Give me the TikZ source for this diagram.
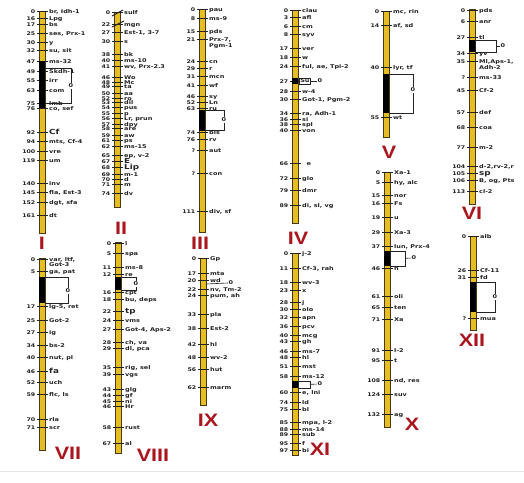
\documentclass[tikz,border=0pt]{standalone}
\usepackage{fontspec}
\newfontfamily\locfont{DejaVu Sans}[FakeStretch=1.25]
\newfontfamily\romfont{Liberation Sans}[FakeStretch=1.2]
\usepackage{tikz}
\definecolor{chryellow}{RGB}{230,190,35}
\definecolor{chredge}{RGB}{70,58,18}
\definecolor{romred}{RGB}{170,22,30}
\definecolor{labgray}{RGB}{35,35,35}

% one chromosome: name, x, top, bottom, loci (y/number/label)
\newcommand{\drawchrom}[5]{%
  \draw[chrbar] ({#2-2.9},#3) rectangle ({#2+2.9},#4);
  \foreach \yy/\nn/\lab [count=\i] in {#5} {
    \draw[tickline] ({#2-5},\yy) -- ({#2+6},\yy);
    \node[numlab, anchor=mid east] (#1-n\i) at ({#2-6.5},\yy) {\nn};
    \node[loclab, anchor=mid west] (#1-l\i) at ({#2+7},\yy) {\lab};
  }%
}
\newcommand{\bigloc}[1]{{\fontsize{7}{7}\selectfont #1}}

\begin{document}
\begin{tikzpicture}[
    x=1pt, y=-1pt,
    chrbar/.style={draw=chredge, fill=chryellow, line width=0.6pt},
    tickline/.style={draw=labgray, line width=0.7pt},
    loclab/.style={font=\locfont\bfseries\fontsize{5.2}{6}\selectfont, text=labgray, inner sep=0pt},
    numlab/.style={font=\locfont\bfseries\fontsize{5}{6}\selectfont, text=labgray, inner sep=0pt},
    cenpart/.style={fill=black},
    cenline/.style={draw=labgray, line width=0.6pt},
    cenbox/.style={draw=labgray, line width=0.6pt, inner sep=0pt, outer sep=0pt},
    cenlab/.style={font=\locfont\bfseries\fontsize{5.2}{6}\selectfont, text=labgray, fill=white, inner sep=0.6pt},
    chrname/.style={font=\romfont\bfseries\fontsize{18}{18}\selectfont, text=romred, inner sep=0pt},
]
\useasboundingbox (0,0) rectangle (524,482);
\draw[gray!20] (0,471) -- (524,471);

% ---- top row
\drawchrom{I}{42}{11}{233}{11/0/{br, Idh-1}, 18.5/16/Lpg, 24/17/bs, 33/25/{ses, Prx-1}, 42/30/y, 50/32/{su, sit}, 61/47/ms-32, 71/49/Skdh-1, 80/55/irr, 90/63/com, 103.5/75/lmb, 108.5/76/{co, sef}, 132/92/{\bigloc{Cf}}, 141/94/{mts, Cf-4}, 151/100/vre, 160/119/um, 183/140/inv, 192/145/{fla, Est-3}, 202/152/{dgt, sfa}, 215/161/dt}
\fill[cenpart] (39.1,61) rectangle (44.9,108);
\coordinate (I-ct) at (44.9,68);
\coordinate (I-cb) at (44.9,103);
\node[cenlab] (I-cen) at (71,86) {0};
\draw[cenline] (I-ct) -| (I-cen.north);
\draw[cenline] (I-cb) -| (I-cen.south);

\drawchrom{II}{117}{12}{207}{12/0/sulf, 24/22/mgn, 32/27/{Est-1, 3-7}, 41/30/s, 54/38/bk, 60/40/ms-10, 66/41/{wv, Prx-2.3}, 77/46/Wo, 82/48/Mc, 86.5/49/ta, 93/50/aa, 98/52/ro, 102.5/53/dil, 107.5/54/pus, 113/55/p, 118.5/56/{Lr, prun}, 124/57/dpy, 128.5/58/are, 135/59/aw, 140/61/ps, 146/62/ms-15, 155/65/{ep, v-2}, 161/67/{\bigloc{E}}, 167.5/68/{\bigloc{Lip}}, 174/69/m-1, 179/70/d, 184/71/m, 193/74/dv}
\draw[tickline, line width=1pt] (112,16) -- (123,10);
\draw[tickline, line width=1pt] (112,27) -- (124,21);

\drawchrom{III}{202}{9}{232}{9/0/pau, 18/8/ms-9, 31/15/pds, 39/21/{Prx-7,}, 61/24/cn, 68/29/r, 76/31/mcn, 85/41/wf, 96/46/sy, 102/52/Ln, 108/63/ru, 132/74/bls, 139/76/rv, 150/?/aut, 173/?/con, 211/111/{div, sf}}
\node[loclab, anchor=north west] (III-l4b) at ([yshift=-1pt]III-l4.south west) {Pgm-1};
\fill[cenpart] (199.1,110) rectangle (204.9,131);
\coordinate (III-ct) at (204.9,110);
\coordinate (III-cb) at (204.9,130);
\node[cenlab] (III-cen) at (224,120) {0};
\draw[cenline] (III-ct) -| (III-cen.north);
\draw[cenline] (III-cb) -| (III-cen.south);

\drawchrom{IV}{295}{10}{223}{10/0/clau, 17/3/afl, 26/6/cm, 34/8/syv, 48/17/ver, 57/18/w, 66/24/{ful, ae, Tpi-2}, 81/27/{}, 91/28/w-4, 99/30/{Got-1, Pgm-2}, 113/34/{ra, Adh-1}, 119/36/si, 124.5/38/spl, 130/40/von, 163/66/{\ \ e}, 178/72/glo, 190/79/dmr, 205/89/{di, sl, vg}}
\fill[cenpart] (292.1,78) rectangle (297.9,84);
\node[loclab, draw=labgray, fill=white, line width=0.5pt, inner sep=1pt, anchor=west] (IV-su) at (299,81) {Su};
\node[cenlab] (IV-cen) at (320,81) {0};
\draw[cenline] (IV-su) -- (IV-cen);

\drawchrom{V}{386}{11}{137}{11/0/{mc, rin}, 25/14/{af, sd}, 67/40/{lyr, tf}, 117/55/wt}
\fill[cenpart] (383.1,74) rectangle (388.9,113);
\coordinate (V-ct) at (388.9,74);
\coordinate (V-cb) at (388.9,113);
\node[cenlab] (V-cen) at (413,90) {0};
\draw[cenline] (V-ct) -| (V-cen.north);
\draw[cenline] (V-cb) -| (V-cen.south);

\drawchrom{VI}{472}{9}{204}{10/0/pds, 21/6/anr, 37/27/tl, 53/34/yv, 61/35/{Ml,Aps-1,}, 77/?/ms-33, 90/45/Cf-2, 112/57/def, 127/68/coa, 147/77/m-2, 166/104/{d-2,rv-2,r}, 173/105/{\bigloc{sp}}, 180/106/{B, og, Pts}, 191/113/cl-2}
\node[loclab, anchor=north west] (VI-l5b) at ([yshift=-1pt]VI-l5.south west) {Adh-2};
\fill[cenpart] (469.1,40) rectangle (474.9,52);
\node[cenbox, minimum width=21pt, minimum height=12pt, anchor=north west] (VI-box) at (474.9,40) {};
\node[cenlab] (VI-cen) at (503,46) {0};
\draw[cenline] (VI-box) -- (VI-cen);

% ---- bottom row
\drawchrom{VII}{42}{258}{450}{259/0/{var, ltf,}, 271/5/{ga, pat}, 306/17/{lg-5, ret}, 320/25/Got-2, 332/27/ig, 345/34/bs-2, 357/40/{nut, pl}, 371/46/{\bigloc{fa}}, 382/52/uch, 394/59/{flc, ls}, 419/70/rla, 427/71/scr}
\node[loclab, anchor=north west] (VII-l1b) at ([yshift=-0.5pt]VII-l1.south west) {Got-3};
\fill[cenpart] (39.1,277) rectangle (44.9,303);
\coordinate (VII-ct) at (44.9,277);
\coordinate (VII-cb) at (44.9,303);
\node[cenlab] (VII-cen) at (68,291) {0};
\draw[cenline] (VII-ct) -| (VII-cen.north);
\draw[cenline] (VII-cb) -| (VII-cen.south);

\drawchrom{VIII}{118}{242}{453}{243/0/l, 253/5/spa, 267/11/ms-8, 274/12/re, 292/16/cpt, 299/18/{bu, deps}, 311/22/{\bigloc{tp}}, 320/24/vms, 329/27/{Got-4, Aps-2}, 342/28/{ch, va}, 348/29/{dl, pca}, 367/35/{rig, sel}, 374/39/vgs, 389.5/43/glg, 395.5/44/gf, 401/45/ni, 406/46/Hr, 427/58/rust, 443/67/al}
\fill[cenpart] (115.1,277) rectangle (120.9,290);
\coordinate (VIII-ct) at (120.9,277);
\coordinate (VIII-cb) at (120.9,290);
\node[cenlab] (VIII-cen) at (136,284) {0};
\draw[cenline] (VIII-ct) -| (VIII-cen.north);
\draw[cenline] (VIII-cb) -| (VIII-cen.south);

\drawchrom{IX}{203}{258}{405}{258/0/Gp, 273/17/mta, 280/20/wd, 289/22/{nv, Tm-2}, 295/24/{pum, ah}, 314/33/pla, 328/38/Est-2, 344/42/hl, 357/48/wv-2, 369/56/hut, 387/62/marm}
\coordinate (IX-c) at (205.9,284);
\node[cenlab] (IX-cen) at (231,283) {0};
\draw[cenline] (IX-c) -- (IX-cen.west);

\drawchrom{XI}{295}{253}{455}{253/0/j-2, 268/11/{Cf-3, rah}, 282/18/wv-3, 290/23/x, 302/28/j, 309/30/olo, 317/32/apn, 326/36/pcv, 335/40/mcg, 341/43/gh, 351/46/ms-7, 357/48/hl, 366/51/mst, 376/58/ms-12, 392/60/{e, lni}, 402/74/ld, 409/75/bl, 422/85/{mpa, l-2}, 429/88/ms-14, 434.5/89/sub, 443/95/f, 450/97/bi}
\fill[cenpart] (292.1,381) rectangle (297.9,388);
\node[cenbox, minimum width=12pt, minimum height=7pt, anchor=north west] (XI-box) at (297.9,381) {};
\node[cenlab] (XI-cen) at (320,384) {0};
\draw[cenline] (XI-box) -- (XI-cen);

\drawchrom{X}{387}{172}{427}{172/0/Xa-1, 182/5/{hy, alc}, 195/15/nor, 203/16/Fs, 217/19/u, 232/29/Xa-3, 246/37/{lun, Prx-4}, 268/46/h, 296/61/oli, 307/65/ten, 319/71/Xa, 350/91/l-2, 360/95/t, 380/108/{nd, res}, 394/124/suv, 414/132/ag}
\fill[cenpart] (384.1,251) rectangle (389.9,266);
\node[cenbox, minimum width=15pt, minimum height=15pt, anchor=north west] (X-box) at (389.9,251) {};
\node[cenlab] (X-cen) at (414,258) {0};
\draw[cenline] (X-box) -- (X-cen);

\drawchrom{XII}{473}{236}{330}{236/0/alb, 270/26/Cf-11, 277/31/fd, 318/?/mua}
\fill[cenpart] (470.1,282) rectangle (475.9,312);
\coordinate (XII-ct) at (475.9,282);
\coordinate (XII-cb) at (475.9,312);
\node[cenlab] (XII-cen) at (495,297) {0};
\draw[cenline] (XII-ct) -| (XII-cen.north);
\draw[cenline] (XII-cb) -| (XII-cen.south);

% ---- chromosome numbers
\node[chrname] (I-name) at (42,243) {I};
\node[chrname] (II-name) at (121,228) {II};
\node[chrname] (III-name) at (200,243) {III};
\node[chrname] (IV-name) at (298,238) {IV};
\node[chrname] (V-name) at (389,152) {V};
\node[chrname] (VI-name) at (472,213) {VI};
\node[chrname] (VII-name) at (68,453) {VII};
\node[chrname] (VIII-name) at (153,455) {VIII};
\node[chrname] (IX-name) at (208,420) {IX};
\node[chrname] (X-name) at (412,424) {X};
\node[chrname] (XI-name) at (320,449) {XI};
\node[chrname] (XII-name) at (472,340) {XII};
\end{tikzpicture}
\end{document}
